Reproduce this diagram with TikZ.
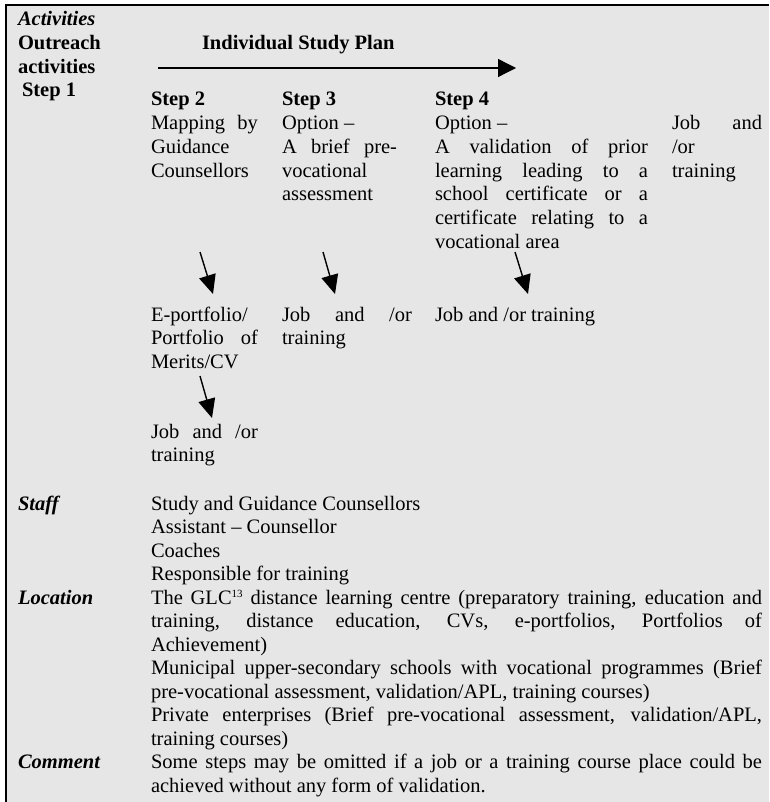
\documentclass[tikz,border=0pt]{standalone}
\usepackage{fontspec}
\setmainfont{Liberation Serif}
\usetikzlibrary{arrows.meta}
\definecolor{panel}{HTML}{E6E6E6}
\newcommand{\jl}[2]{\makebox[#1pt][s]{#2}}
\newcommand{\smallsup}[1]{\raisebox{7pt}{\fontsize{11}{11}\selectfont #1}}
\begin{document}
\begin{tikzpicture}[x=1pt,y=-1pt,
  txt/.style={anchor=base west, inner sep=0pt, outer sep=0pt, font=\fontsize{20.5}{23.5}\selectfont},
  hd/.style={txt, font=\fontsize{20.5}{23.5}\selectfont\bfseries},
  lab/.style={txt, font=\fontsize{20.5}{23.5}\selectfont\bfseries\itshape},
  flow/.style={line width=1.4pt, -{Triangle[length=19pt,width=17pt]}},
  plan/.style={line width=1.3pt, -{Triangle[length=18pt,width=18pt]}},
]
\useasboundingbox (0,0) rectangle (769,802);
\fill[white] (0,0) rectangle (769,802);
\fill[panel] (6,5) rectangle (769,802);
\draw[line width=2pt] (6,802) -- (6,5) -- (769,5);

% left labels
\node[lab] (act) at (18,26) {Activities};
\node[hd] (outr) at (18,50) {Outreach};
\node[hd] (activ) at (18,74) {activities};
\node[hd] (st1) at (22,97) {Step 1};

% plan heading and arrow
\node[hd] (isp) at (202,50) {Individual Study Plan};
\coordinate (pa) at (158,68);
\coordinate (pb) at (516,68);
\draw[plan] (pa) -- (pb);

% step 2
\node[hd] (s2) at (151,106) {Step 2};
\node[txt] (s2a) at (151,130) {\jl{107}{Mapping by}};
\node[txt] (s2b) at (151,154) {Guidance};
\node[txt] (s2c) at (151,177.5) {Counsellors};

% step 3
\node[hd] (s3) at (282,106) {Step 3};
\node[txt] (s3a) at (282,130) {Option –};
\node[txt] (s3b) at (282,154) {\jl{115}{A brief pre-}};
\node[txt] (s3c) at (282,177.5) {vocational};
\node[txt] (s3d) at (282,201) {assessment};

% step 4
\node[hd] (s4) at (435,106) {Step 4};
\node[txt] (s4a) at (435,130) {Option –};
\node[txt] (s4b) at (435,154) {\jl{213}{A validation of prior}};
\node[txt] (s4c) at (435,177.5) {\jl{213}{learning leading to a}};
\node[txt] (s4d) at (435,201) {\jl{213}{school certificate or a}};
\node[txt] (s4e) at (435,225) {\jl{213}{certificate relating to a}};
\node[txt] (s4f) at (435,248.5) {vocational area};

% column 5
\node[txt] (c5a) at (672,130) {\jl{90}{Job and}};
\node[txt] (c5b) at (672,154) {/or};
\node[txt] (c5c) at (672,177.5) {training};

% down arrows
\coordinate (d1s) at (200,252); \coordinate (d1e) at (213,294);
\coordinate (d2s) at (323,252); \coordinate (d2e) at (335,294);
\coordinate (d3s) at (515,252); \coordinate (d3e) at (528,294);
\coordinate (d4s) at (200,376); \coordinate (d4e) at (212,418);
\draw[flow] (d1s) -- (d1e);
\draw[flow] (d2s) -- (d2e);
\draw[flow] (d3s) -- (d3e);
\draw[flow] (d4s) -- (d4e);

% lower results
\node[txt] (e1) at (151,321) {E-portfolio/};
\node[txt] (e2) at (151,344.5) {\jl{107}{Portfolio of}};
\node[txt] (e3) at (151,368) {Merits/CV};
\node[txt] (j3a) at (282,321) {\jl{130}{Job and /or}};
\node[txt] (j3b) at (282,344.5) {training};
\node[txt] (j4) at (435,321) {Job and /or training};
\node[txt] (j2a) at (151,438) {\jl{107}{Job and /or}};
\node[txt] (j2b) at (151,461.5) {training};

% staff
\node[lab] (staff) at (18,510) {Staff};
\node[txt] (sf1) at (151,510) {Study and Guidance Counsellors};
\node[txt] (sf2) at (151,533.5) {Assistant – Counsellor};
\node[txt] (sf3) at (151,557) {Coaches};
\node[txt] (sf4) at (151,580.5) {Responsible for training};

% location
\node[lab] (loc) at (18,604) {Location};
\node[txt] (l1) at (151,604) {\jl{611}{The GLC\smallsup{13} distance learning centre (preparatory training, education and}};
\node[txt] (l2) at (151,627.5) {\jl{611}{training, distance education, CVs, e-portfolios, Portfolios of}};
\node[txt] (l3) at (151,651) {Achievement)};
\node[txt] (l4) at (151,674.5) {\jl{611}{Municipal upper-secondary schools with vocational programmes (Brief}};
\node[txt] (l5) at (151,698) {pre-vocational assessment, validation/APL, training courses)};
\node[txt] (l6) at (151,721.5) {\jl{611}{Private enterprises (Brief pre-vocational assessment, validation/APL,}};
\node[txt] (l7) at (151,745) {training courses)};

% comment
\node[lab] (com) at (18,768.5) {Comment};
\node[txt] (c1) at (151,768.5) {\jl{611}{Some steps may be omitted if a job or a training course place could be}};
\node[txt] (c2) at (151,792) {achieved without any form of validation.};
\end{tikzpicture}
\end{document}
